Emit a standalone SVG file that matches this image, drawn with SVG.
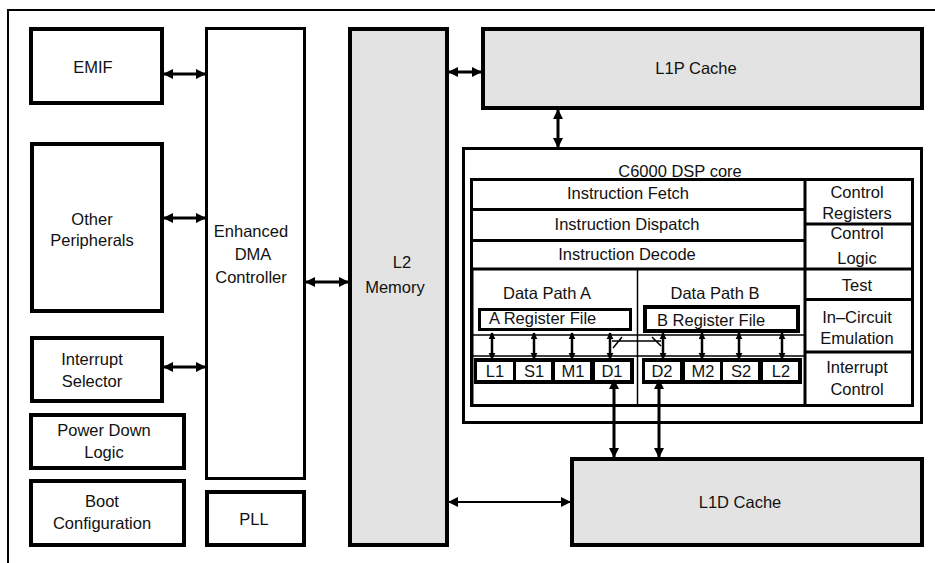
<svg xmlns="http://www.w3.org/2000/svg" width="935" height="563" viewBox="0 0 935 563">
<style>
text{font-family:"Liberation Sans",Arial,sans-serif;font-size:16.5px;fill:#111;text-anchor:middle}
.l{text-anchor:start}
.b{fill:#fff;stroke:#000;stroke-width:4}
.g{fill:#e3e3e3;stroke:#000;stroke-width:4}
.t{fill:#fff;stroke:#000;stroke-width:3}
.ln{stroke:#000;stroke-width:3;fill:none}
.thin{stroke:#000;stroke-width:1.5;fill:none}
.a{stroke:#000;stroke-width:3;fill:none;marker-start:url(#h);marker-end:url(#h)}
.a2{stroke:#000;stroke-width:2;fill:none;marker-start:url(#h);marker-end:url(#h)}
.sa{stroke:#000;stroke-width:2.5;fill:none;marker-start:url(#hs);marker-end:url(#hs)}
.u{fill:#fff;stroke:none}
</style>
<defs>
<marker id="h" viewBox="0 0 10 10" refX="9" refY="5" markerUnits="userSpaceOnUse" markerWidth="10" markerHeight="11" orient="auto-start-reverse"><path d="M0,0 L10,5 L0,10 z" fill="#000"/></marker>
<marker id="hs" viewBox="0 0 10 10" refX="9" refY="5" markerUnits="userSpaceOnUse" markerWidth="7" markerHeight="8" orient="auto-start-reverse"><path d="M0,0 L10,5 L0,10 z" fill="#000"/></marker>
</defs>
<rect width="935" height="563" fill="#fff"/>
<path d="M8,563 V10 H935" stroke="#000" stroke-width="2" fill="none"/>

<g id="emif"><rect class="b" x="31" y="29" width="131" height="74"/><text x="93" y="73">EMIF</text></g>
<g id="other-peripherals"><rect class="b" x="32" y="144" width="130" height="167"/><text x="92" y="225">Other</text><text x="92" y="246">Peripherals</text></g>
<g id="interrupt-selector"><rect class="b" x="32" y="338" width="130" height="63"/><text x="92" y="365">Interrupt</text><text x="92" y="387">Selector</text></g>
<g id="power-down"><rect class="b" x="31" y="415" width="153" height="53"/><text x="104" y="436">Power Down</text><text x="104" y="458">Logic</text></g>
<g id="boot"><rect class="b" x="31" y="481" width="153" height="64"/><text x="102" y="507">Boot</text><text x="102" y="529">Configuration</text></g>
<g id="edma"><rect class="t" x="206.5" y="28.5" width="98" height="450"/><text x="251" y="237">Enhanced</text><text x="253" y="260">DMA</text><text x="251" y="283">Controller</text></g>
<g id="pll"><rect class="b" x="207" y="492" width="97" height="53"/><text x="254" y="525">PLL</text></g>
<g id="l2"><rect class="g" x="350" y="29" width="97" height="516"/><text x="402" y="268">L2</text><text x="395" y="293">Memory</text></g>
<g id="l1p"><rect class="g" x="483" y="29" width="439" height="79"/><text x="696" y="74">L1P Cache</text></g>
<g id="l1d"><rect class="g" x="572" y="459" width="350" height="86"/><text x="740" y="508">L1D Cache</text></g>

<g id="dsp-core">
<rect class="t" x="463.5" y="148.5" width="458" height="274"/>
<text x="680" y="177">C6000 DSP core</text>
<rect class="t" x="471.5" y="179.5" width="441" height="226"/>
<path class="ln" d="M805,179 V405 M472,209.5 H805 M472,240.5 H805 M472,269 H912 M805,224 H912 M805,299.5 H912 M805,352 H912"/>
<path class="ln" d="M472,270 V405" stroke-width="4"/>
<path class="thin" d="M637.5,269 V405" stroke-width="2"/>
</g>
<g id="instruction-fetch"><text x="628" y="199">Instruction Fetch</text></g>
<g id="instruction-dispatch"><text x="627" y="230">Instruction Dispatch</text></g>
<g id="instruction-decode"><text x="627" y="260">Instruction Decode</text></g>
<g id="control-registers"><text x="857" y="198">Control</text><text x="857" y="219">Registers</text></g>
<g id="control-logic"><text x="857" y="239">Control</text><text x="857" y="264">Logic</text></g>
<g id="test"><text x="857" y="291">Test</text></g>
<g id="ice"><text x="857" y="323">In–Circuit</text><text x="857" y="344">Emulation</text></g>
<g id="interrupt-control"><text x="857" y="373">Interrupt</text><text x="857" y="395">Control</text></g>

<g id="data-path-a">
<text x="547" y="299">Data Path A</text>
<rect class="t" x="479.5" y="309.5" width="151" height="20"/>
<text class="l" x="489" y="324">A Register File</text>
<path class="thin" d="M472,335 H637 M472,356 H637"/>
<rect x="474" y="358" width="160" height="26" fill="#000"/>
<rect class="u" x="477" y="362" width="36" height="18"/><text x="495" y="377">L1</text>
<rect class="u" x="516" y="362" width="35" height="18"/><text x="534" y="377">S1</text>
<rect class="u" x="555" y="362" width="35" height="18"/><text x="573" y="377">M1</text>
<rect class="u" x="595" y="362" width="35" height="18"/><text x="612" y="377">D1</text>
</g>
<g id="data-path-b">
<text x="715" y="299">Data Path B</text>
<rect x="645" y="307" width="153" height="24" fill="#fff" stroke="#000" stroke-width="4"/>
<text class="l" x="657" y="326">B Register File</text>
<path class="thin" d="M638,335 H805 M638,356 H805"/>
<rect x="642" y="358" width="160" height="26" fill="#000"/>
<rect class="u" x="645" y="362" width="35" height="18"/><text x="662" y="377">D2</text>
<rect class="u" x="685" y="362" width="35" height="18"/><text x="703" y="377">M2</text>
<rect class="u" x="723" y="362" width="35" height="18"/><text x="741" y="377">S2</text>
<rect class="u" x="763" y="362" width="35" height="18"/><text x="781" y="377">L2</text>
</g>

<g id="connectors">
<path class="a" d="M164,74 H205"/>
<path class="a" d="M164,218 H205"/>
<path class="a" d="M164,367 H205"/>
<path class="a" d="M306,282 H348"/>
<path class="a" d="M449,72 H481"/>
<path class="a" d="M558,110 V147"/>
<path class="a2" d="M449,502 H570"/>
<path class="a" d="M614,380 V457"/>
<path class="a" d="M659,380 V457"/>
<path class="sa" d="M492,333 V359"/>
<path class="sa" d="M534,333 V359"/>
<path class="sa" d="M572,333 V359"/>
<path class="sa" d="M610,333 V359"/>
<path class="sa" d="M663,333 V359"/>
<path class="sa" d="M702,333 V359"/>
<path class="sa" d="M739,333 V359"/>
<path class="sa" d="M782,333 V359"/>
<path class="thin" d="M612,341 H661 M613,348 L622,337 M652,337 L661,346"/>
</g>
</svg>
